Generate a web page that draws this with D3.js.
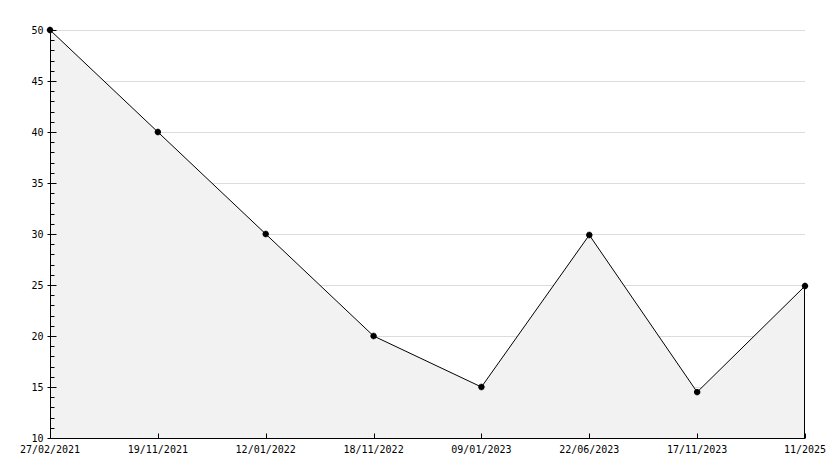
<!DOCTYPE html>
<html>
<head>
<meta charset="utf-8">
<script src="https://cdn.jsdelivr.net/npm/d3@7"></script>
<style>
  body { margin: 0; background: #fff; }
  text { font-family: "DejaVu Sans Mono", monospace; font-size: 10px; fill: #000; }
</style>
</head>
<body>
<div id="chart-area"></div>
<script>
// Data
const dates = ['27/02/2021', '19/11/2021', '12/01/2022', '18/11/2022', '09/01/2023', '22/06/2023', '17/11/2023', '11/2025']
const values = [50, 40, 30, 20, 15, 29.9, 14.5, 24.9]
const yTicks = [10, 15, 20, 25, 30, 35, 40, 45, 50]

// Sizing
const MARGIN = { LEFT: 50, RIGHT: 29, TOP: 30, BOTTOM: 30 }
const WIDTH = 834 - MARGIN.LEFT - MARGIN.RIGHT
const HEIGHT = 468 - MARGIN.TOP - MARGIN.BOTTOM

const svg = d3.select('#chart-area').append('svg')
  .attr('width', 834)
  .attr('height', 468)

const g = svg.append('g')
  .attr('transform', `translate(${MARGIN.LEFT}, ${MARGIN.TOP})`)

// Scales
const x = d3.scalePoint()
  .domain(dates)
  .range([0, WIDTH])

const y = d3.scaleLinear()
  .domain([10, 50])
  .range([HEIGHT, 0])

const data = dates.map((d, i) => ({ date: d, value: values[i] }))

// grid lines
g.append('g')
  .selectAll('line')
  .data(yTicks.filter(t => t > 10))
  .enter().append('line')
    .attr('x1', 0)
    .attr('x2', WIDTH)
    .attr('y1', d => Math.round(y(d)) + 0.5)
    .attr('y2', d => Math.round(y(d)) + 0.5)
    .attr('stroke', '#dcdcdc')

// area
const area = d3.area()
  .x(d => x(d.date))
  .y0(y(10))
  .y1(d => y(d.value))

g.append('path')
  .datum(data)
  .attr('d', area)
  .attr('fill', '#f2f2f2')

// line
const line = d3.line()
  .x(d => x(d.date))
  .y(d => y(d.value))

g.append('path')
  .datum(data)
  .attr('d', line)
  .attr('fill', 'none')
  .attr('stroke', '#000')
  .attr('stroke-width', 1)

// right edge of the area
const last = data[data.length - 1]
g.append('line')
  .attr('x1', x(last.date) - 0.5)
  .attr('x2', x(last.date) - 0.5)
  .attr('y1', y(last.value))
  .attr('y2', y(10))
  .attr('stroke', '#000')

// y axis
const yAxisGroup = g.append('g')
  .attr('transform', 'translate(0.5, 0)')

yAxisGroup.append('line')
  .attr('y1', 0).attr('y2', HEIGHT)
  .attr('stroke', '#000')

// minor ticks
yAxisGroup.selectAll('.minor')
  .data(d3.range(10, 51).filter(v => v % 5 !== 0))
  .enter().append('line')
    .attr('class', 'minor')
    .attr('x1', 0).attr('x2', 4)
    .attr('y1', d => Math.round(y(d)) + 0.5)
    .attr('y2', d => Math.round(y(d)) + 0.5)
    .attr('stroke', '#000')

// major ticks
yAxisGroup.selectAll('.major')
  .data(yTicks)
  .enter().append('line')
    .attr('class', 'major')
    .attr('x1', -3).attr('x2', 6)
    .attr('y1', d => Math.round(y(d)) + 0.5)
    .attr('y2', d => Math.round(y(d)) + 0.5)
    .attr('stroke', '#000')

yAxisGroup.selectAll('.ylabel')
  .data(yTicks)
  .enter().append('text')
    .attr('class', 'ylabel')
    .attr('x', -7)
    .attr('y', d => y(d))
    .attr('dy', '0.35em')
    .attr('text-anchor', 'end')
    .text(d => d)

// x axis
const xAxisGroup = g.append('g')
  .attr('transform', `translate(0, ${HEIGHT + 0.5})`)

xAxisGroup.append('line')
  .attr('x1', 0).attr('x2', WIDTH)
  .attr('stroke', '#000')

xAxisGroup.selectAll('.xtick')
  .data(dates)
  .enter().append('line')
    .attr('class', 'xtick')
    .attr('x1', d => Math.round(x(d)) + 0.5)
    .attr('x2', d => Math.round(x(d)) + 0.5)
    .attr('y1', -5).attr('y2', 0)
    .attr('stroke', '#000')

xAxisGroup.selectAll('.xlabel')
  .data(dates)
  .enter().append('text')
    .attr('class', 'xlabel')
    .attr('x', d => x(d))
    .attr('y', 14)
    .attr('text-anchor', 'middle')
    .text(d => d)

// markers: small filled eight-point blobs
const markers = g.selectAll('.marker')
  .data(data)
  .enter().append('g')
    .attr('class', 'marker')
    .attr('transform', d => `translate(${x(d.date)}, ${y(d.value)})`)

markers.append('path')
  .attr('d', d3.symbol().type(d3.symbolCross).size(22))
  .attr('fill', '#000')

markers.append('path')
  .attr('transform', 'rotate(45)')
  .attr('d', d3.symbol().type(d3.symbolCross).size(22))
  .attr('fill', '#000')
</script>
</body>
</html>
